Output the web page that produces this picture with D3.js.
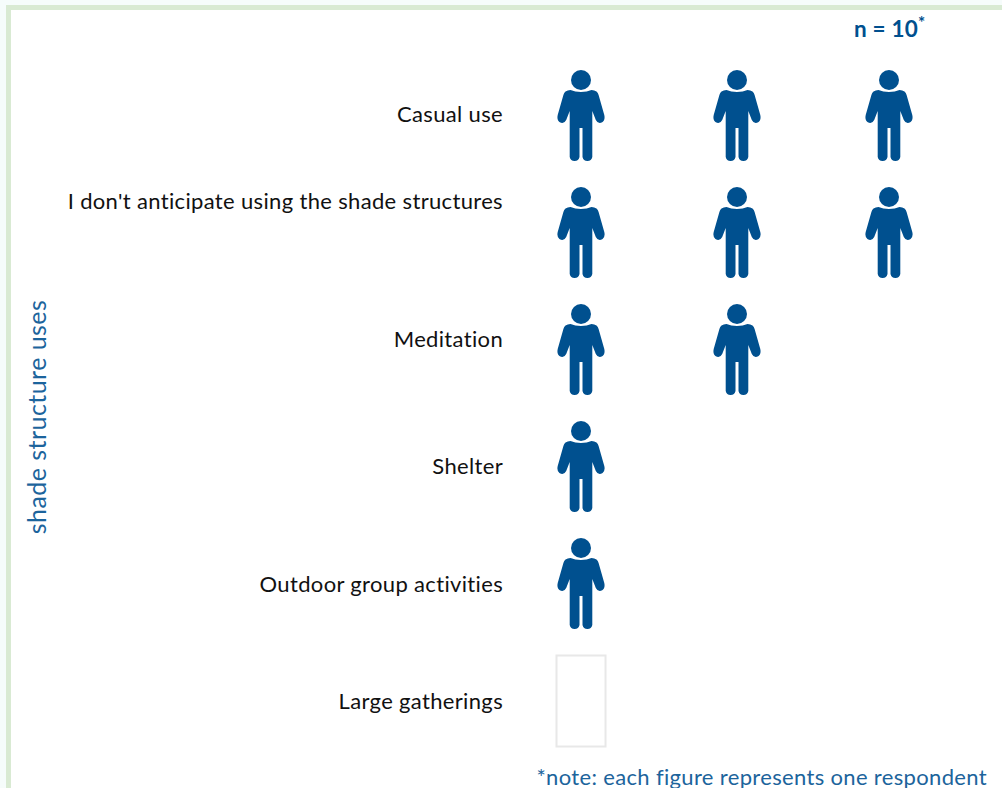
<!DOCTYPE html>
<html><head><meta charset="utf-8">
<script src="https://cdn.jsdelivr.net/npm/d3@7"></script>
<style>html,body{margin:0;padding:0;background:#fff;overflow:hidden}svg{display:block}text{font-family:Lato,"Open Sans",sans-serif}</style>
</head><body><svg id="c" width="1002" height="788"></svg>
<script>
const categories = ["Casual use","I don't anticipate using the shade structures","Meditation","Shelter","Outdoor group activities","Large gatherings"];
const counts = [3,3,2,1,1,0];
const axisTitle = "shade structure uses";
const sampleLabel = "n = 10";
const noteLabel = "*note: each figure represents one respondent";

const W=1002,H=788,BLUE="#00508f",TEXTBLUE="#1c649c";
const svg=d3.select("#c");
svg.append("rect").attr("width",W).attr("height",H).attr("fill","#f6fcfb");
svg.append("rect").attr("x",6).attr("y",5).attr("width",W).attr("height",H).attr("fill","#d9ead3");
svg.append("rect").attr("x",11).attr("y",10).attr("width",W).attr("height",H).attr("fill","#fff");

const y=d3.scalePoint().domain(categories).range([70,655]);
const yLabel=d3.scaleOrdinal().domain(categories).range([114,201,339,466,584,701]);
const x=d3.scaleLinear().domain([0,1,2]).range([581,737,889]);

const body="M-15.5,21.5 Q-13.5,20 -10.5,20 Q-6,22 0,22 Q6,22 10.5,20 Q13.5,20 15.5,21.5 Q17,22.5 17.6,25 L23.3,45 Q24.4,49.5 21.6,52 Q17,54.5 14.8,50 L11.3,41 L11.3,87 A5,5 0 0 1 1.5,87 L1.5,58 L-1.5,58 L-1.5,87 A5,5 0 0 1 -11.3,87 L-11.3,41 L-14.8,50 Q-17,54.5 -21.6,52 Q-24.4,49.5 -23.3,45 L-17.6,25 Q-17,22.5 -15.5,21.5 Z";

const rows=svg.append("g").selectAll("g").data(categories.map((c,i)=>({c,n:counts[i]}))).join("g")
  .attr("transform",d=>`translate(0,${y(d.c)})`);
const figs=rows.selectAll("g.p").data(d=>d3.range(d.n)).join("g").attr("class","p")
  .attr("transform",d=>`translate(${x(d)},0)`);
figs.append("circle").attr("cy",10).attr("r",10).attr("fill",BLUE);
figs.append("path").attr("d",body).attr("fill",BLUE);
rows.filter(d=>d.n===0).append("rect")
  .attr("x",x(0)-24.5).attr("y",0.5).attr("width",49).attr("height",91)
  .attr("fill","#fff").attr("stroke","#e8e8e8").attr("stroke-width",2);

svg.append("g").selectAll("text").data(categories).join("text")
  .attr("x",503).attr("y",d=>yLabel(d)).attr("dy","0.35em").attr("text-anchor","end")
  .attr("font-size",22).attr("letter-spacing",0.34).attr("fill","#111").text(d=>d);

svg.append("text").attr("transform","translate(37,417) rotate(-90)").attr("dy","0.35em")
  .attr("text-anchor","middle").attr("font-size",25).attr("letter-spacing",0.45).attr("fill",TEXTBLUE).text(axisTitle);
const s=svg.append("text").attr("x",854).attr("y",37).attr("font-size",22.5).attr("letter-spacing",0.2).attr("font-weight",700).attr("fill",BLUE).text(sampleLabel);
s.append("tspan").attr("dy",-8).attr("font-size",17).text("*");
svg.append("text").attr("x",987).attr("y",785).attr("text-anchor","end").attr("font-size",22).attr("letter-spacing",0.34).attr("fill",TEXTBLUE).text(noteLabel);
</script></body></html>
